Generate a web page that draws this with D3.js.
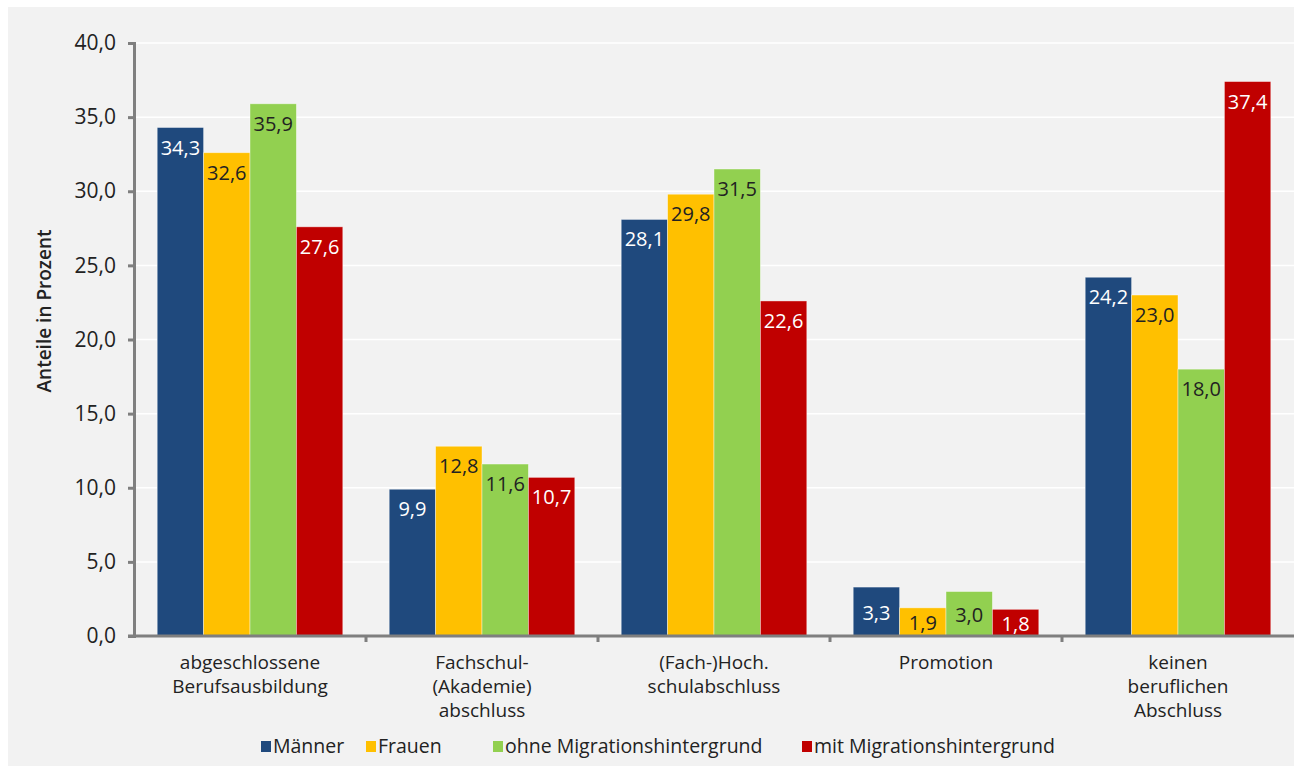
<!DOCTYPE html>
<html><head><meta charset="utf-8">
<script src="https://cdn.jsdelivr.net/npm/d3@7"></script>
<style>
body{margin:0;background:#fff;}
svg{display:block;}
text{font-family:"Open Sans",sans-serif;fill:#222;}
</style></head>
<body>
<svg id="chart" width="1294" height="766"></svg>
<script>
const categories = [["abgeschlossene","Berufsausbildung"],["Fachschul-","(Akademie)","abschluss"],["(Fach-)Hoch.","schulabschluss"],["Promotion"],["keinen","beruflichen","Abschluss"]];
const seriesNames = ["Männer","Frauen","ohne Migrationshintergrund","mit Migrationshintergrund"];
const maenner = [34.3, 9.9, 28.1, 3.3, 24.2];
const frauen = [32.6, 12.8, 29.8, 1.9, 23.0];
const ohneMig = [35.9, 11.6, 31.5, 3.0, 18.0];
const mitMig = [27.6, 10.7, 22.6, 1.8, 37.4];
const yTicks = [0,5,10,15,20,25,30,35,40];
const colors = ["#1f497d","#ffc000","#92d050","#c00000"];
const labelColors = ["#fff","#222","#222","#fff"];
const series = [maenner, frauen, ohneMig, mitMig];

const svg = d3.select("#chart");
svg.append("rect").attr("x",8).attr("y",7).attr("width",1286).attr("height",759).attr("fill","#f2f2f2");

const pLeft=134, pRight=1294, pTop=43, pBottom=636;
const fmt = v => v.toFixed(1).replace(".", ",");
const y = d3.scaleLinear().domain([0,40]).range([pBottom, pTop]);
const x0 = d3.scaleBand().domain(d3.range(categories.length)).range([pLeft,pRight]).paddingInner(0.2).paddingOuter(0.1);
const x1 = d3.scaleBand().domain(d3.range(series.length)).range([0,x0.bandwidth()]);
const step = (pRight-pLeft)/categories.length;

// gridlines
svg.append("g").selectAll("line").data(yTicks.filter(t=>t>0)).join("line")
  .attr("x1",pLeft).attr("x2",pRight).attr("y1",d=>y(d)).attr("y2",d=>y(d))
  .attr("stroke","#ffffff").attr("stroke-width",1.5);

// bars
const g = svg.append("g");
series.forEach((vals,si)=>{
  g.selectAll(null).data(vals).join("rect")
    .attr("x",(d,i)=>x0(i)+x1(si)).attr("width",x1.bandwidth())
    .attr("y",d=>y(d)).attr("height",d=>pBottom-y(d))
    .attr("fill",colors[si]).attr("stroke","rgba(255,255,255,0.5)").attr("stroke-width",0.8);
  g.selectAll(null).data(vals).join("text")
    .attr("x",(d,i)=>x0(i)+x1(si)+x1.bandwidth()/2)
    .attr("y",d=>(pBottom-y(d))<60 ? (y(d)+pBottom)/2+8 : y(d)+27)
    .attr("text-anchor","middle").style("font-size","20px").style("fill",labelColors[si])
    .text(d=>fmt(d));
});

// y axis
const yAxis = d3.axisLeft(y).tickValues(yTicks).tickFormat(fmt).tickSize(6).tickPadding(12);
const ya = svg.append("g").attr("transform",`translate(${pLeft},0)`).call(yAxis);
ya.select(".domain").attr("stroke","#7f7f7f").attr("stroke-width",3);
ya.selectAll(".tick line").attr("stroke","#7f7f7f").attr("stroke-width",3);
ya.selectAll(".tick text").style("font-size","21px").style("font-family","'Open Sans',sans-serif").attr("fill","#222");

// x axis baseline + ticks
svg.append("line").attr("x1",pLeft-6).attr("x2",pRight).attr("y1",pBottom).attr("y2",pBottom).attr("stroke","#7f7f7f").attr("stroke-width",3);
svg.append("g").selectAll("line").data(d3.range(1,categories.length)).join("line")
  .attr("x1",d=>pLeft+d*step).attr("x2",d=>pLeft+d*step).attr("y1",pBottom).attr("y2",pBottom+6)
  .attr("stroke","#7f7f7f").attr("stroke-width",3);

// category labels
categories.forEach((lines,i)=>{
  const t = svg.append("text").attr("text-anchor","middle").style("font-size","19px");
  lines.forEach((ln,k)=>t.append("tspan").attr("x",x0(i)+x0.bandwidth()/2).attr("y",669+k*24).text(ln));
});

// y title
svg.append("text").attr("transform","translate(51,311) rotate(-90)").attr("text-anchor","middle")
  .style("font-size","19px").style("font-weight","600").text("Anteile in Prozent");

// legend
const legX = [261,366,493,802];
seriesNames.forEach((n,i)=>{
  svg.append("rect").attr("x",legX[i]).attr("y",741).attr("width",10).attr("height",11).attr("fill",colors[i]);
  svg.append("text").attr("x",legX[i]+12).attr("y",753).style("font-size","19.5px").text(n);
});
</script>
</body></html>
